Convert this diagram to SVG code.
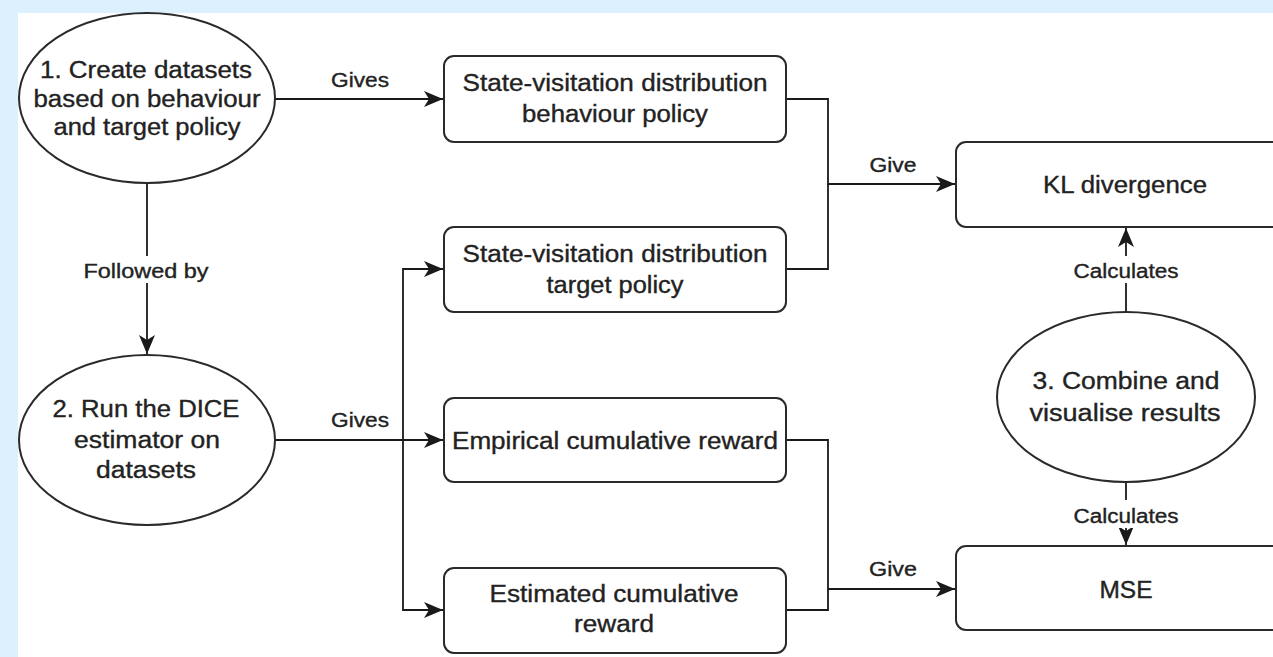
<svg xmlns="http://www.w3.org/2000/svg" width="1273" height="657" viewBox="0 0 1273 657">
<style>
.node{fill:#fff;stroke:#2a2a2a;stroke-width:2}
.t{font-family:"Liberation Sans",Arial,sans-serif;font-size:23px;fill:#222;stroke:#222;stroke-width:0.35;text-anchor:middle}
.l{font-family:"Liberation Sans",Arial,sans-serif;font-size:19.5px;fill:#222;stroke:#222;stroke-width:0.35;text-anchor:middle}
.c{fill:none;stroke:#1a1a1a;stroke-width:1.8}
.bg{fill:#fff}
</style>
<defs>
<marker id="arr" markerUnits="userSpaceOnUse" markerWidth="20" markerHeight="18" refX="19" refY="8" orient="auto">
<path d="M0,0 L19,8 L0,16 L5,8 Z" fill="#1a1a1a"/>
</marker>
</defs>
<rect x="0" y="0" width="1273" height="657" fill="#dcf0fd"/>
<rect x="18" y="13" width="1255" height="644" fill="#fff"/>

<g id="connectors">
<path class="c" d="M275,99 H443" marker-end="url(#arr)"/>
<path class="c" d="M147,183 V354" marker-end="url(#arr)"/>
<path class="c" d="M275,440 H443" marker-end="url(#arr)"/>
<path class="c" d="M275,440 H403 V269 H443" marker-end="url(#arr)"/>
<path class="c" d="M275,440 H403 V610 H443" marker-end="url(#arr)"/>
<path class="c" d="M786,99 H828 V184 H955" marker-end="url(#arr)"/>
<path class="c" d="M786,269 H828 V184"/>
<path class="c" d="M1126,312 V228" marker-end="url(#arr)"/>
<path class="c" d="M1126,482 V545" marker-end="url(#arr)"/>
<path class="c" d="M786,440 H828 V589 H955" marker-end="url(#arr)"/>
<path class="c" d="M786,610 H828 V589"/>
<text class="l" x="360" y="87" textLength="58" lengthAdjust="spacingAndGlyphs">Gives</text>
<text class="l" x="360" y="427" textLength="58" lengthAdjust="spacingAndGlyphs">Gives</text>
<text class="l" x="893" y="172" textLength="47" lengthAdjust="spacingAndGlyphs">Give</text>
<text class="l" x="893" y="576" textLength="48" lengthAdjust="spacingAndGlyphs">Give</text>
<rect class="bg" x="80" y="256" width="132" height="27"/>
<text class="l" x="146" y="278" textLength="125" lengthAdjust="spacingAndGlyphs">Followed by</text>
<rect class="bg" x="1070" y="256" width="112" height="27"/>
<text class="l" x="1126" y="278" textLength="105" lengthAdjust="spacingAndGlyphs">Calculates</text>
<rect class="bg" x="1070" y="500" width="112" height="28"/>
<text class="l" x="1126" y="523" textLength="105" lengthAdjust="spacingAndGlyphs">Calculates</text>
</g>

<g id="n1">
<ellipse class="node" cx="147" cy="98" rx="128" ry="85"/>
<text class="t" x="146" y="78" textLength="212" lengthAdjust="spacingAndGlyphs">1. Create datasets</text>
<text class="t" x="147" y="107" textLength="227" lengthAdjust="spacingAndGlyphs">based on behaviour</text>
<text class="t" x="147" y="135" textLength="187" lengthAdjust="spacingAndGlyphs">and target policy</text>
</g>
<g id="n2">
<ellipse class="node" cx="147" cy="440" rx="128" ry="85"/>
<text class="t" x="146" y="417" textLength="187" lengthAdjust="spacingAndGlyphs">2. Run the DICE</text>
<text class="t" x="147" y="448" textLength="146" lengthAdjust="spacingAndGlyphs">estimator on</text>
<text class="t" x="146" y="478" textLength="100" lengthAdjust="spacingAndGlyphs">datasets</text>
</g>
<g id="n3">
<ellipse class="node" cx="1126" cy="397" rx="129" ry="85"/>
<text class="t" x="1126" y="389" textLength="187" lengthAdjust="spacingAndGlyphs">3. Combine and</text>
<text class="t" x="1125" y="421" textLength="191" lengthAdjust="spacingAndGlyphs">visualise results</text>
</g>
<g id="b1">
<rect class="node" x="444" y="56" width="342" height="86" rx="10"/>
<text class="t" x="615" y="91" textLength="305" lengthAdjust="spacingAndGlyphs">State-visitation distribution</text>
<text class="t" x="615" y="122" textLength="186" lengthAdjust="spacingAndGlyphs">behaviour policy</text>
</g>
<g id="b2">
<rect class="node" x="444" y="227" width="342" height="85" rx="10"/>
<text class="t" x="615" y="262" textLength="305" lengthAdjust="spacingAndGlyphs">State-visitation distribution</text>
<text class="t" x="615" y="293" textLength="137" lengthAdjust="spacingAndGlyphs">target policy</text>
</g>
<g id="b3">
<rect class="node" x="444" y="398" width="342" height="84" rx="10"/>
<text class="t" x="615" y="449" textLength="326" lengthAdjust="spacingAndGlyphs">Empirical cumulative reward</text>
</g>
<g id="b4">
<rect class="node" x="444" y="568" width="342" height="85" rx="10"/>
<text class="t" x="614" y="602" textLength="249" lengthAdjust="spacingAndGlyphs">Estimated cumulative</text>
<text class="t" x="614" y="632" textLength="80" lengthAdjust="spacingAndGlyphs">reward</text>
</g>
<g id="kl">
<rect class="node" x="956" y="142" width="338" height="85" rx="10"/>
<text class="t" x="1125" y="193" textLength="164" lengthAdjust="spacingAndGlyphs">KL divergence</text>
</g>
<g id="mse">
<rect class="node" x="956" y="546" width="338" height="84" rx="10"/>
<text class="t" x="1126" y="598" textLength="53" lengthAdjust="spacingAndGlyphs">MSE</text>
</g>
</svg>
